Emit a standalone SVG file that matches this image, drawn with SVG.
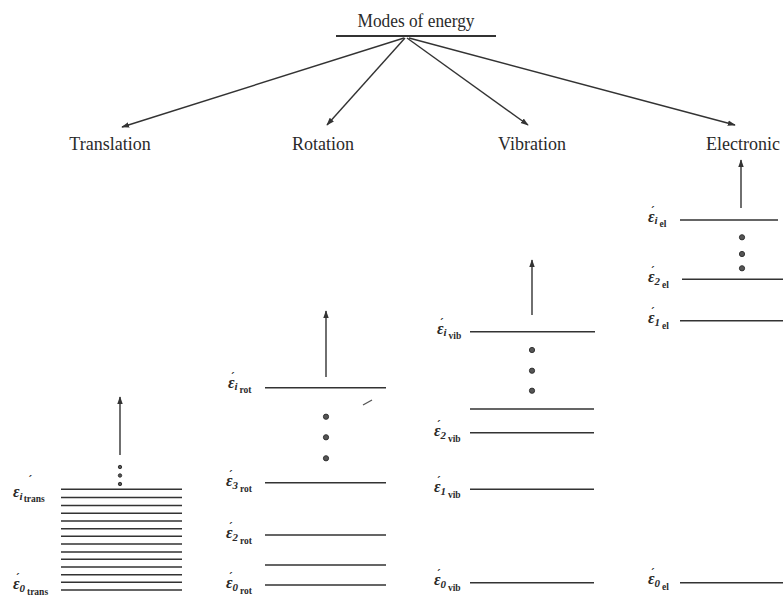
<svg xmlns="http://www.w3.org/2000/svg" width="783" height="599" viewBox="0 0 783 599">
<style>
text{font-family:"Liberation Serif","DejaVu Serif",serif;fill:#2a2a2a}
.t{font-size:18px}
.e{font-size:16px;font-style:italic;font-weight:bold}
.p{font-family:"DejaVu Sans",sans-serif;font-size:11px;font-style:italic;font-weight:bold}
.s{font-size:11px;font-style:italic;font-weight:bold}
.ss{font-size:9.5px;font-style:normal;font-weight:bold}
.lv{stroke:#333;stroke-width:1.6;fill:none}
.ar{stroke:#333;stroke-width:1.4;fill:none;marker-end:url(#ah)}
.dot{fill:#555;stroke:#333;stroke-width:1}
</style>
<defs>
<marker id="ah" viewBox="0 0 10 10" refX="9" refY="5" markerWidth="8" markerHeight="8" markerUnits="userSpaceOnUse" orient="auto"><path d="M0,1.5 L10,5 L0,8.5 Z" fill="#333"/></marker>
</defs>
<rect width="783" height="599" fill="#fff"/>

<g id="root">
<text class="t" x="416" y="27" text-anchor="middle" textLength="117" lengthAdjust="spacingAndGlyphs">Modes of energy</text>
<line x1="336" y1="36" x2="496" y2="36" stroke="#333" stroke-width="2.2"/>
</g>

<g id="connectors">
<line class="ar" x1="404" y1="38" x2="122" y2="127"/>
<line class="ar" x1="405" y1="38" x2="327" y2="125"/>
<line class="ar" x1="407" y1="38" x2="528" y2="125"/>
<line class="ar" x1="409" y1="38" x2="735" y2="125"/>
<line class="ar" x1="120" y1="455" x2="120" y2="397"/>
<line class="ar" x1="326" y1="377" x2="326" y2="311"/>
<line class="ar" x1="532" y1="315" x2="532" y2="260"/>
<line class="ar" x1="741" y1="208" x2="741" y2="160"/>
</g>

<g id="translation">
<text class="t" x="110" y="150" text-anchor="middle">Translation</text>
<circle class="dot" cx="120" cy="467" r="1.7"/>
<circle class="dot" cx="120" cy="475.5" r="1.7"/>
<circle class="dot" cx="120" cy="484" r="1.7"/>
<path class="lv" d="M61,489.3H182M61,497.5H182M61,505.5H182M61,513.3H182M61,521H182M61,528.7H182M61,536.3H182M61,544H182M61,552H182M61,559.3H182M61,567H182M61,574.7H182M61,582.3H182M61,590H182"/>
<text class="p" x="29" y="483">′</text>
<text class="e" x="13" y="497">ε<tspan class="s" dx="0" dy="3">i</tspan><tspan class="ss" dx="1" dy="2">trans</tspan></text>
<text class="e" x="13" y="589">ε<tspan class="p" dx="-3" dy="-8">′</tspan><tspan class="s" dx="0" dy="11">0</tspan><tspan class="ss" dx="2" dy="3">trans</tspan></text>
</g>

<g id="rotation">
<text class="t" x="323" y="150" text-anchor="middle">Rotation</text>
<circle class="dot" cx="326" cy="416.7" r="2.6"/>
<circle class="dot" cx="326" cy="437.3" r="2.6"/>
<circle class="dot" cx="326" cy="458.3" r="2.6"/>
<line x1="363" y1="405" x2="372" y2="400" stroke="#555" stroke-width="1.3"/>
<path class="lv" d="M265,387.7H386M265,482.7H386M265,535H386M265,565H386M265,585H386"/>
<text class="e" x="228" y="388">ε<tspan class="p" dx="-3" dy="-8">′</tspan><tspan class="s" dx="0" dy="10">i</tspan><tspan class="ss" dx="2" dy="3">rot</tspan></text>
<text class="e" x="226" y="486">ε<tspan class="p" dx="-3" dy="-8">′</tspan><tspan class="s" dx="0" dy="11">3</tspan><tspan class="ss" dx="2" dy="3">rot</tspan></text>
<text class="e" x="226" y="538">ε<tspan class="p" dx="-3" dy="-8">′</tspan><tspan class="s" dx="0" dy="11">2</tspan><tspan class="ss" dx="2" dy="3">rot</tspan></text>
<text class="e" x="226" y="588">ε<tspan class="p" dx="-3" dy="-8">′</tspan><tspan class="s" dx="0" dy="11">0</tspan><tspan class="ss" dx="2" dy="3">rot</tspan></text>
</g>

<g id="vibration">
<text class="t" x="532" y="150" text-anchor="middle">Vibration</text>
<circle class="dot" cx="532" cy="350" r="2.6"/>
<circle class="dot" cx="532" cy="370.7" r="2.6"/>
<circle class="dot" cx="532" cy="390.7" r="2.6"/>
<path class="lv" d="M470,331.7H595M470,409H594M470,432.7H594M470,489.3H594M470,582.7H594"/>
<text class="e" x="437" y="334">ε<tspan class="p" dx="-3" dy="-8">′</tspan><tspan class="s" dx="0" dy="10">i</tspan><tspan class="ss" dx="2" dy="3">vib</tspan></text>
<text class="e" x="434" y="436">ε<tspan class="p" dx="-3" dy="-8">′</tspan><tspan class="s" dx="0" dy="11">2</tspan><tspan class="ss" dx="2" dy="3">vib</tspan></text>
<text class="e" x="434" y="492">ε<tspan class="p" dx="-3" dy="-8">′</tspan><tspan class="s" dx="0" dy="11">1</tspan><tspan class="ss" dx="2" dy="3">vib</tspan></text>
<text class="e" x="434" y="585">ε<tspan class="p" dx="-3" dy="-8">′</tspan><tspan class="s" dx="0" dy="11">0</tspan><tspan class="ss" dx="2" dy="3">vib</tspan></text>
</g>

<g id="electronic">
<text class="t" x="706" y="150">Electronic</text>
<circle class="dot" cx="742" cy="237.3" r="2.6"/>
<circle class="dot" cx="742" cy="254" r="2.6"/>
<circle class="dot" cx="742" cy="268.3" r="2.6"/>
<path class="lv" d="M680,220H778M682,279.3H783M680,320.7H783M680,582.7H783"/>
<text class="e" x="648" y="222">ε<tspan class="p" dx="-3" dy="-8">′</tspan><tspan class="s" dx="0" dy="10">i</tspan><tspan class="ss" dx="2" dy="3">el</tspan></text>
<text class="e" x="648" y="282">ε<tspan class="p" dx="-3" dy="-8">′</tspan><tspan class="s" dx="0" dy="11">2</tspan><tspan class="ss" dx="2" dy="3">el</tspan></text>
<text class="e" x="648" y="323">ε<tspan class="p" dx="-3" dy="-8">′</tspan><tspan class="s" dx="0" dy="11">1</tspan><tspan class="ss" dx="2" dy="3">el</tspan></text>
<text class="e" x="648" y="584">ε<tspan class="p" dx="-3" dy="-8">′</tspan><tspan class="s" dx="0" dy="11">0</tspan><tspan class="ss" dx="2" dy="3">el</tspan></text>
</g>
</svg>
